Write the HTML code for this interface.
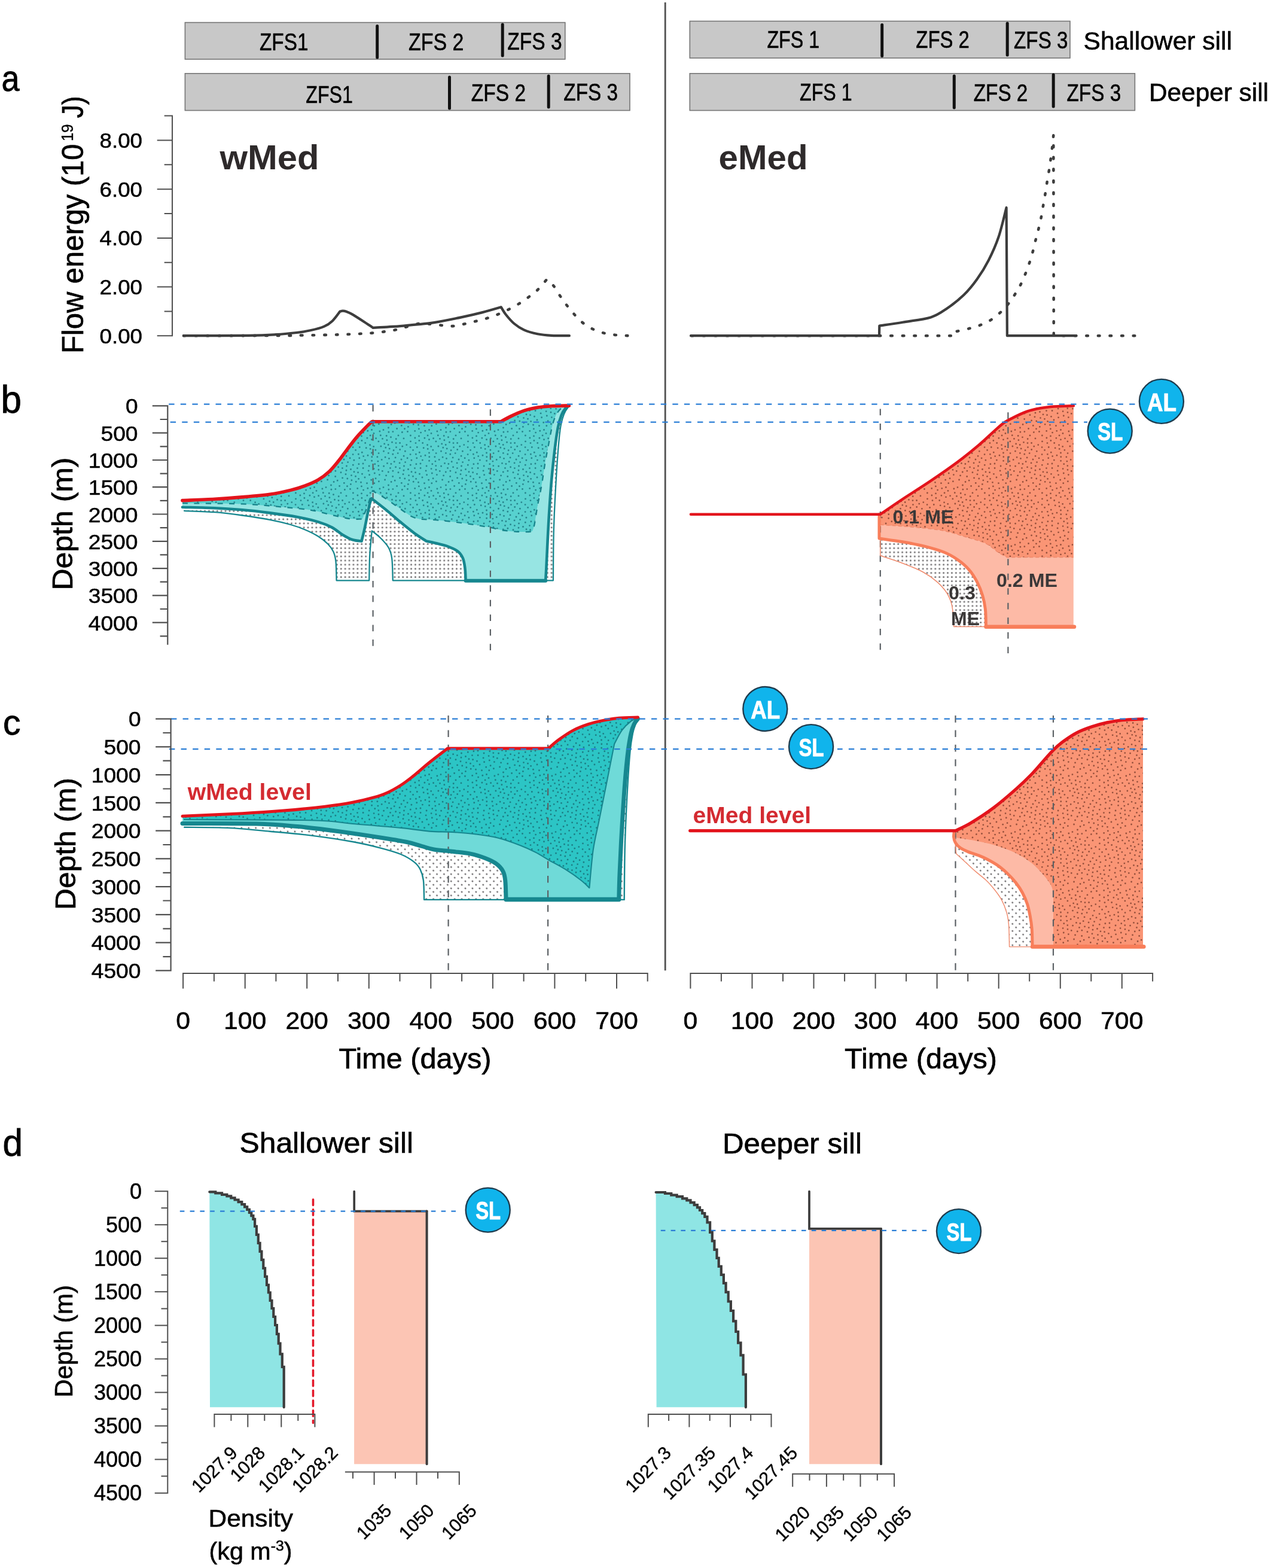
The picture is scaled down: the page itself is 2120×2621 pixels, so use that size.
<!DOCTYPE html>
<html lang="en"><head><meta charset="utf-8"><title>Figure</title>
<style>html,body{margin:0;padding:0;background:#fff}svg{display:block}text{font-family:"Liberation Sans",Arial,sans-serif}</style>
</head><body>
<svg width="2120" height="2621" viewBox="0 0 2120 2621">
<rect width="2120" height="2621" fill="#fff"/>
<defs>
<pattern id="stB" width="96" height="96" patternUnits="userSpaceOnUse"><rect width="96" height="96" fill="#57d1cf"/><path d="M31.1 14.5h0M40.1 18.9h0M41.6 25.8h0M29.5 24.3h0M41.1 11h0M50.8 7.7h0M22.6 21.7h0M34 30h0M31 7h0M49.1 15.6h0M50.3 23h0M57 17.3h0M27.5 38.3h0M44.7 34.2h0M23.9 7.7h0M21.7 48.4h0M37.5 39.7h0M23.6 32.4h0M21.5 14.6h0M11.5 26.6h0M34.4 1.1h0M34.4 97.1h0M49.8 39.7h0M10.5 16.5h0M2 24.8h0M98 24.8h0M55.9 3.1h0M31.7 90.6h0M31.6 51.1h0M57.4 36.7h0M4.8 32h0M92.4 14.6h0M37.9 60.3h0M92.6 30.9h0M18.5 28.3h0M19.2 37.3h0M39 89.2h0M5.6 4.6h0M54.9 91.8h0M29.3 84.2h0M14.3 9.3h0M21.9 60h0M24.8 93.7h0M24.8 -2.3h0M58.4 25.6h0M45.6 2.3h0M45.6 98.3h0M28.4 44.9h0M63.3 19.4h0M25.3 75.5h0M58.9 49h0M15.9 1.2h0M15.9 97.2h0M90 21.7h0M38.8 48.3h0M45.8 91.7h0M9.1 93.8h0M9.1 -2.2h0M5.4 82.3h0M36.2 76.8h0M23 68.6h0M56.8 10.6h0M80.9 19.2h0M43.1 55.9h0M3.5 11h0M67.6 34h0M16 20.8h0M14.1 75.6h0M45.5 85h0M52.1 31.7h0M14.4 56h0M23.4 87.3h0M3 60.9h0M45.5 46.5h0M57.1 85.6h0M42.6 71.8h0M3.1 90.3h0M28.5 56.9h0M86.2 61.7h0M80.7 28.5h0M11.9 34.8h0M52.6 60.8h0M34.7 68.5h0M77.9 7.5h0M62.2 0.4h0M62.2 96.4h0M14.1 87.6h0M4.5 44.8h0M0.4 50.5h0M96.4 50.5h0M95.3 39.4h0M-0.7 39.4h0M73.3 21h0M28.9 64.5h0M95 0h0M-1 0h0M-1 96h0M95 96h0M0.8 74.1h0M96.8 74.1h0M65.5 82.2h0M14.5 65.9h0M65.6 11.2h0M60.3 55.7h0M85.6 12.8h0M10.4 41.4h0M49 52.4h0M78.1 37.5h0M51.9 80.3h0M92.1 5.9h0M7.8 71.6h0M43.2 78.4h0M92.6 68.5h0M18.6 80.4h0M83.2 3.7h0M80.9 49.6h0M68.1 92.3h0M9.5 49.5h0M92.7 79.5h0M45.5 62.8h0M48.7 74.4h0M71.5 6.4h0M89.2 85.6h0M74.5 94.4h0M74.5 -1.6h0M3 18.2h0M85.1 92.9h0M73.4 85.4h0M56.9 65.9h0M82.1 80.7h0M87.6 44.5h0M90 55.9h0M65 46.6h0M66.7 69.9h0M73.9 50.2h0M76.5 14.4h0M60.9 74h0M73.5 43h0M80.8 87.2h0M70.2 56.5h0M84.2 35.2h0M77.5 58.8h0M63.5 61.4h0M69.6 26.9h0M75.2 77.9h0M79.5 67.3h0M86 68.6h0M70.9 63.7h0M86.5 75.6h0M73.2 71.5h0M68.8 76.3h0" stroke="#27858d" stroke-width="2.9" stroke-linecap="round" fill="none"/></pattern>
<pattern id="stC" width="96" height="96" patternUnits="userSpaceOnUse"><rect width="96" height="96" fill="#2cc5c5"/><path d="M31.1 14.5h0M40.1 18.9h0M41.6 25.8h0M29.5 24.3h0M41.1 11h0M50.8 7.7h0M22.6 21.7h0M34 30h0M31 7h0M49.1 15.6h0M50.3 23h0M57 17.3h0M27.5 38.3h0M44.7 34.2h0M23.9 7.7h0M21.7 48.4h0M37.5 39.7h0M23.6 32.4h0M21.5 14.6h0M11.5 26.6h0M34.4 1.1h0M34.4 97.1h0M49.8 39.7h0M10.5 16.5h0M2 24.8h0M98 24.8h0M55.9 3.1h0M31.7 90.6h0M31.6 51.1h0M57.4 36.7h0M4.8 32h0M92.4 14.6h0M37.9 60.3h0M92.6 30.9h0M18.5 28.3h0M19.2 37.3h0M39 89.2h0M5.6 4.6h0M54.9 91.8h0M29.3 84.2h0M14.3 9.3h0M21.9 60h0M24.8 93.7h0M24.8 -2.3h0M58.4 25.6h0M45.6 2.3h0M45.6 98.3h0M28.4 44.9h0M63.3 19.4h0M25.3 75.5h0M58.9 49h0M15.9 1.2h0M15.9 97.2h0M90 21.7h0M38.8 48.3h0M45.8 91.7h0M9.1 93.8h0M9.1 -2.2h0M5.4 82.3h0M36.2 76.8h0M23 68.6h0M56.8 10.6h0M80.9 19.2h0M43.1 55.9h0M3.5 11h0M67.6 34h0M16 20.8h0M14.1 75.6h0M45.5 85h0M52.1 31.7h0M14.4 56h0M23.4 87.3h0M3 60.9h0M45.5 46.5h0M57.1 85.6h0M42.6 71.8h0M3.1 90.3h0M28.5 56.9h0M86.2 61.7h0M80.7 28.5h0M11.9 34.8h0M52.6 60.8h0M34.7 68.5h0M77.9 7.5h0M62.2 0.4h0M62.2 96.4h0M14.1 87.6h0M4.5 44.8h0M0.4 50.5h0M96.4 50.5h0M95.3 39.4h0M-0.7 39.4h0M73.3 21h0M28.9 64.5h0M95 0h0M-1 0h0M-1 96h0M95 96h0M0.8 74.1h0M96.8 74.1h0M65.5 82.2h0M14.5 65.9h0M65.6 11.2h0M60.3 55.7h0M85.6 12.8h0M10.4 41.4h0M49 52.4h0M78.1 37.5h0M51.9 80.3h0M92.1 5.9h0M7.8 71.6h0M43.2 78.4h0M92.6 68.5h0M18.6 80.4h0M83.2 3.7h0M80.9 49.6h0M68.1 92.3h0M9.5 49.5h0M92.7 79.5h0M45.5 62.8h0M48.7 74.4h0M71.5 6.4h0M89.2 85.6h0M74.5 94.4h0M74.5 -1.6h0M3 18.2h0M85.1 92.9h0M73.4 85.4h0M56.9 65.9h0M82.1 80.7h0M87.6 44.5h0M90 55.9h0M65 46.6h0M66.7 69.9h0M73.9 50.2h0M76.5 14.4h0M60.9 74h0M73.5 43h0M80.8 87.2h0M70.2 56.5h0M84.2 35.2h0M77.5 58.8h0M63.5 61.4h0M69.6 26.9h0M75.2 77.9h0M79.5 67.3h0M86 68.6h0M70.9 63.7h0M86.5 75.6h0M73.2 71.5h0M68.8 76.3h0" stroke="#1d7f86" stroke-width="2.9" stroke-linecap="round" fill="none"/></pattern>
<pattern id="stO" width="96" height="96" patternUnits="userSpaceOnUse"><rect width="96" height="96" fill="#fa9575"/><path d="M31.1 14.5h0M40.1 18.9h0M41.6 25.8h0M29.5 24.3h0M41.1 11h0M50.8 7.7h0M22.6 21.7h0M34 30h0M31 7h0M49.1 15.6h0M50.3 23h0M57 17.3h0M27.5 38.3h0M44.7 34.2h0M23.9 7.7h0M21.7 48.4h0M37.5 39.7h0M23.6 32.4h0M21.5 14.6h0M11.5 26.6h0M34.4 1.1h0M34.4 97.1h0M49.8 39.7h0M10.5 16.5h0M2 24.8h0M98 24.8h0M55.9 3.1h0M31.7 90.6h0M31.6 51.1h0M57.4 36.7h0M4.8 32h0M92.4 14.6h0M37.9 60.3h0M92.6 30.9h0M18.5 28.3h0M19.2 37.3h0M39 89.2h0M5.6 4.6h0M54.9 91.8h0M29.3 84.2h0M14.3 9.3h0M21.9 60h0M24.8 93.7h0M24.8 -2.3h0M58.4 25.6h0M45.6 2.3h0M45.6 98.3h0M28.4 44.9h0M63.3 19.4h0M25.3 75.5h0M58.9 49h0M15.9 1.2h0M15.9 97.2h0M90 21.7h0M38.8 48.3h0M45.8 91.7h0M9.1 93.8h0M9.1 -2.2h0M5.4 82.3h0M36.2 76.8h0M23 68.6h0M56.8 10.6h0M80.9 19.2h0M43.1 55.9h0M3.5 11h0M67.6 34h0M16 20.8h0M14.1 75.6h0M45.5 85h0M52.1 31.7h0M14.4 56h0M23.4 87.3h0M3 60.9h0M45.5 46.5h0M57.1 85.6h0M42.6 71.8h0M3.1 90.3h0M28.5 56.9h0M86.2 61.7h0M80.7 28.5h0M11.9 34.8h0M52.6 60.8h0M34.7 68.5h0M77.9 7.5h0M62.2 0.4h0M62.2 96.4h0M14.1 87.6h0M4.5 44.8h0M0.4 50.5h0M96.4 50.5h0M95.3 39.4h0M-0.7 39.4h0M73.3 21h0M28.9 64.5h0M95 0h0M-1 0h0M-1 96h0M95 96h0M0.8 74.1h0M96.8 74.1h0M65.5 82.2h0M14.5 65.9h0M65.6 11.2h0M60.3 55.7h0M85.6 12.8h0M10.4 41.4h0M49 52.4h0M78.1 37.5h0M51.9 80.3h0M92.1 5.9h0M7.8 71.6h0M43.2 78.4h0M92.6 68.5h0M18.6 80.4h0M83.2 3.7h0M80.9 49.6h0M68.1 92.3h0M9.5 49.5h0M92.7 79.5h0M45.5 62.8h0M48.7 74.4h0M71.5 6.4h0M89.2 85.6h0M74.5 94.4h0M74.5 -1.6h0M3 18.2h0M85.1 92.9h0M73.4 85.4h0M56.9 65.9h0M82.1 80.7h0M87.6 44.5h0M90 55.9h0M65 46.6h0M66.7 69.9h0M73.9 50.2h0M76.5 14.4h0M60.9 74h0M73.5 43h0M80.8 87.2h0M70.2 56.5h0M84.2 35.2h0M77.5 58.8h0M63.5 61.4h0M69.6 26.9h0M75.2 77.9h0M79.5 67.3h0M86 68.6h0M70.9 63.7h0M86.5 75.6h0M73.2 71.5h0M68.8 76.3h0" stroke="#96503c" stroke-width="2.8" stroke-linecap="round" fill="none"/></pattern>
<pattern id="gd" width="6.9" height="6.9" patternUnits="userSpaceOnUse" x="1" y="2"><rect width="6.9" height="6.9" fill="#fff"/><circle cx="3.45" cy="3.45" r="1.5" fill="#757375"/></pattern>
<pattern id="gd2" width="8.4" height="8.4" patternUnits="userSpaceOnUse" patternTransform="rotate(45)"><rect width="8.4" height="8.4" fill="#fff"/><circle cx="4.2" cy="4.2" r="1.5" fill="#757375"/></pattern>
</defs>
<line x1="1112.2" y1="4" x2="1112.2" y2="1622.3" stroke="#505050" stroke-width="2.8"/>
<rect x="309.4" y="37.6" width="635.4" height="61.4" fill="#c8c8c8" stroke="#757575" stroke-width="1.6"/>
<line x1="630.7" y1="43.5" x2="630.7" y2="96" stroke="#111" stroke-width="5" stroke-linecap="round"/>
<line x1="840.2" y1="41" x2="840.2" y2="93" stroke="#111" stroke-width="5" stroke-linecap="round"/>
<text x="434" y="83.5" font-size="41" textLength="81.4" lengthAdjust="spacingAndGlyphs" stroke="#000" stroke-width="0.57">ZFS1</text>
<text x="683.1" y="83.5" font-size="41" textLength="92.4" lengthAdjust="spacingAndGlyphs" stroke="#000" stroke-width="0.57">ZFS 2</text>
<text x="848.3" y="83" font-size="41" textLength="91.4" lengthAdjust="spacingAndGlyphs" stroke="#000" stroke-width="0.57">ZFS 3</text>
<rect x="309.4" y="122.8" width="743.6" height="61.8" fill="#c8c8c8" stroke="#757575" stroke-width="1.6"/>
<line x1="751.5" y1="129" x2="751.5" y2="181" stroke="#111" stroke-width="5" stroke-linecap="round"/>
<line x1="917.2" y1="127" x2="917.2" y2="179" stroke="#111" stroke-width="5" stroke-linecap="round"/>
<text x="511.3" y="171.5" font-size="41" textLength="78.6" lengthAdjust="spacingAndGlyphs" stroke="#000" stroke-width="0.57">ZFS1</text>
<text x="787.8" y="169.4" font-size="41" textLength="91.4" lengthAdjust="spacingAndGlyphs" stroke="#000" stroke-width="0.57">ZFS 2</text>
<text x="942.3" y="168.3" font-size="41" textLength="90.7" lengthAdjust="spacingAndGlyphs" stroke="#000" stroke-width="0.57">ZFS 3</text>
<rect x="1153.3" y="35.4" width="635.7" height="61.6" fill="#c8c8c8" stroke="#757575" stroke-width="1.6"/>
<line x1="1474.7" y1="41.5" x2="1474.7" y2="93.5" stroke="#111" stroke-width="5" stroke-linecap="round"/>
<line x1="1684.2" y1="39" x2="1684.2" y2="92" stroke="#111" stroke-width="5" stroke-linecap="round"/>
<text x="1282.4" y="80.2" font-size="41" textLength="87.9" lengthAdjust="spacingAndGlyphs" stroke="#000" stroke-width="0.57">ZFS 1</text>
<text x="1531.3" y="80.2" font-size="41" textLength="89.6" lengthAdjust="spacingAndGlyphs" stroke="#000" stroke-width="0.57">ZFS 2</text>
<text x="1695.1" y="80.9" font-size="41" textLength="90.4" lengthAdjust="spacingAndGlyphs" stroke="#000" stroke-width="0.57">ZFS 3</text>
<rect x="1153.3" y="122.8" width="744.1" height="61.8" fill="#c8c8c8" stroke="#757575" stroke-width="1.6"/>
<line x1="1595.3" y1="127" x2="1595.3" y2="180" stroke="#111" stroke-width="5" stroke-linecap="round"/>
<line x1="1761.2" y1="125" x2="1761.2" y2="178" stroke="#111" stroke-width="5" stroke-linecap="round"/>
<text x="1337" y="168.3" font-size="41" textLength="87.6" lengthAdjust="spacingAndGlyphs" stroke="#000" stroke-width="0.57">ZFS 1</text>
<text x="1627.7" y="169.3" font-size="41" textLength="90.7" lengthAdjust="spacingAndGlyphs" stroke="#000" stroke-width="0.57">ZFS 2</text>
<text x="1783.4" y="169.3" font-size="41" textLength="90.8" lengthAdjust="spacingAndGlyphs" stroke="#000" stroke-width="0.57">ZFS 3</text>
<text x="1811.5" y="83.2" font-size="42" textLength="248.5" lengthAdjust="spacingAndGlyphs" stroke="#000" stroke-width="0.59">Shallower sill</text>
<text x="1921" y="169.3" font-size="42" textLength="200" lengthAdjust="spacingAndGlyphs" stroke="#000" stroke-width="0.59">Deeper sill</text>
<text x="2.5" y="152" font-size="62" textLength="30" lengthAdjust="spacingAndGlyphs" stroke="#000" stroke-width="0.87">a</text>
<path d="M288 193.6 V561.3M262.7 561.3 H289M262.7 479.6 H289M262.7 397.9 H289M262.7 316.2 H289M262.7 234.5 H289M274.7 520.4 H289M274.7 438.7 H289M274.7 357 H289M274.7 275.3 H289M274.7 193.6 H289" fill="none" stroke="#4f4f4f" stroke-width="2"/>
<text x="238" y="573.6" font-size="34.5" text-anchor="end" textLength="71.5" lengthAdjust="spacingAndGlyphs" stroke="#000" stroke-width="0.48">0.00</text>
<text x="238" y="491.9" font-size="34.5" text-anchor="end" textLength="71.5" lengthAdjust="spacingAndGlyphs" stroke="#000" stroke-width="0.48">2.00</text>
<text x="238" y="410.2" font-size="34.5" text-anchor="end" textLength="71.5" lengthAdjust="spacingAndGlyphs" stroke="#000" stroke-width="0.48">4.00</text>
<text x="238" y="328.5" font-size="34.5" text-anchor="end" textLength="71.5" lengthAdjust="spacingAndGlyphs" stroke="#000" stroke-width="0.48">6.00</text>
<text x="238" y="246.8" font-size="34.5" text-anchor="end" textLength="71.5" lengthAdjust="spacingAndGlyphs" stroke="#000" stroke-width="0.48">8.00</text>
<text x="138.6" y="591" font-size="50" textLength="350.5" lengthAdjust="spacingAndGlyphs" transform="rotate(-90 138.6 591)" stroke="#000" stroke-width="0.7">Flow energy (10</text>
<text x="121.8" y="236" font-size="28" textLength="28.5" lengthAdjust="spacingAndGlyphs" transform="rotate(-90 121.8 236)" stroke="#000" stroke-width="0.39">19</text>
<text x="138.6" y="197.5" font-size="50" textLength="37" lengthAdjust="spacingAndGlyphs" transform="rotate(-90 138.6 197.5)" stroke="#000" stroke-width="0.7">J)</text>
<text x="367.5" y="283.3" font-size="57" font-weight="bold" fill="#2e2a2b" textLength="166" lengthAdjust="spacingAndGlyphs">wMed</text>
<text x="1201.5" y="283.2" font-size="57" font-weight="bold" fill="#2e2a2b" textLength="149" lengthAdjust="spacingAndGlyphs">eMed</text>
<path d="M307 561.2C332.5 561.2 426.8 561.1 460 561C493.2 560.9 488.5 560.8 506 560.5C523.5 560.2 548.7 559.9 565 559.4C581.3 558.9 594.4 558.3 604 557.8C613.6 557.3 616.1 557.2 622.6 556.6C629.1 556 636.8 555.2 643.3 554.3C649.8 553.4 655.7 552.6 661.8 551.3C667.9 550 673.7 548 680 546.3C686.3 544.6 693.8 541.9 699.6 541C705.4 540.1 708.7 540.8 715 541.2C721.3 541.7 730.6 543.1 737.6 543.7C744.6 544.4 750.7 545.5 757.2 545.1C763.7 544.7 770.5 542.8 776.8 541.4C783.1 540 788.9 538.6 795.2 537C801.5 535.4 808.5 533.8 814.8 531.8C821.1 529.8 827.2 527.5 833.2 525.1C839.2 522.7 844.7 520.1 850.5 517.2C856.3 514.3 862.2 511.1 867.8 507.6C873.4 504.2 878.7 500.4 883.9 496.5C889.1 492.6 893.8 489.4 898.9 484.5C904 479.6 911.7 469.9 914.2 467C916.1 468.8 921.8 473.2 925.4 477.6C929 482.1 932.1 488.3 935.8 493.7C939.4 499.1 943.3 504.6 947.3 509.9C951.3 515.2 955.6 520.4 960 525.3C964.4 530.2 968.8 535.1 973.8 539.1C978.8 543.1 984.1 546.6 989.9 549.5C995.6 552.4 1002.1 554.7 1008.3 556.4C1014.4 558.1 1020.4 558.8 1026.8 559.6C1033.2 560.4 1039.9 560.7 1046.4 561C1052.9 561.3 1062.7 561.2 1066 561.2" fill="none" stroke="#3d3d3d" stroke-width="4.6" stroke-dasharray="2.6 17" stroke-linecap="round" stroke-linejoin="round"/>
<path d="M306.9 561.2C324.9 561.1 389.5 561.1 415.2 560.8C440.9 560.5 447.9 560 461.3 559.2C474.8 558.4 486.3 557.1 495.9 556C505.5 554.9 511.2 554 518.9 552.3C526.6 550.6 535.9 548.2 542 545.6C548.1 543 551.4 540.6 555.8 536.4C560.2 532.2 566.3 523.2 568.4 520.6C569.2 520.4 571.2 519.6 573 519.6C574.8 519.6 576.5 519.9 579 520.8C581.5 521.7 583.4 522.2 588 524.8C592.6 527.4 600.5 532.5 606.5 536.4C612.5 540.2 620.8 546 623.7 547.9C631.2 547.4 656 546.1 668.7 545.1C681.4 544.1 690.5 543.1 700 542.1C709.5 541.1 714 541.1 726 539.1C738 537.1 758.8 532.9 772.2 530.1C785.7 527.3 795.8 524.9 806.7 522.1C817.6 519.3 832.6 514.8 837.8 513.3C839.1 515.4 842.2 521.4 845.9 526C849.5 530.6 854.7 536.8 859.7 541C864.7 545.2 869.4 548.4 875.9 551.3C882.4 554.2 891.2 556.6 898.9 558.2C906.6 559.8 913.1 560.3 921.9 560.8C930.7 561.3 946.9 561.1 951.9 561.2" fill="none" stroke="#3d3d3d" stroke-width="4.2" stroke-linecap="round" stroke-linejoin="round"/>
<path d="M1156 561.2L1597.6 561.2L1597.6 554.4C1598.3 554.2 1597.8 554.3 1601.7 553.4C1605.6 552.5 1614.9 550.6 1621.1 548.9C1627.3 547.2 1633.1 545.8 1639.1 543.4C1645.1 541 1651.2 538.3 1657 534.6C1662.8 530.9 1668.8 525.8 1673.6 521.3C1678.4 516.8 1682.2 512.4 1686.1 507.5C1690 502.6 1693.6 497.1 1697.1 491.7C1700.5 486.3 1703.9 480.9 1706.8 475.1C1709.7 469.3 1712.1 463.2 1714.6 457.1C1717 451 1719.4 444.5 1721.5 438.3C1723.6 432.1 1725.3 426.1 1727 419.8C1728.7 413.5 1730.1 406.7 1731.7 400.5C1733.3 394.3 1734.9 388.7 1736.4 382.5C1737.9 376.3 1739.5 369.6 1740.8 363.1C1742.1 356.7 1743 350.2 1744.1 343.8C1745.2 337.4 1746.4 330.8 1747.5 324.4C1748.6 317.9 1749.5 311.6 1750.5 305.1C1751.5 298.7 1752.8 292.1 1753.8 285.7C1754.8 279.2 1755.7 273.1 1756.6 266.4C1757.5 259.7 1758.5 252.3 1759.3 245.6C1760.1 238.9 1761 229.5 1761.3 226.3L1761.8 561.2L1899 561.2" fill="none" stroke="#3d3d3d" stroke-width="4.6" stroke-dasharray="2.6 17" stroke-linecap="round" stroke-linejoin="round"/>
<path d="M1155 561.2L1470 561.2L1470.3 544.6C1476.8 543.6 1494.8 541.1 1509.1 538.7C1523.4 536.3 1543.6 534.3 1556.1 530.4C1568.5 526.5 1574.6 521.4 1583.8 515.2C1593 509 1603.1 501.2 1611.4 493.1C1619.7 485 1626.6 476.5 1633.5 466.8C1640.4 457.1 1646.9 446.8 1652.9 435C1658.9 423.2 1664.5 411 1669.5 396.3C1674.5 381.6 1680.4 355.2 1682.6 347L1683.9 561.2L1799.4 561.2" fill="none" stroke="#3d3d3d" stroke-width="4.2" stroke-linecap="round" stroke-linejoin="round"/>
<text x="1.5" y="690.3" font-size="65" textLength="34.5" lengthAdjust="spacingAndGlyphs" stroke="#000" stroke-width="0.91">b</text>
<path d="M305 847.7C314 848 342.4 848.5 359.1 849.3C375.8 850.1 389.8 850.9 405.2 852.3C420.6 853.6 435.9 855.4 451.3 857.4C466.7 859.4 484 861.8 497.4 864.3C510.8 866.8 522.3 869.5 531.9 872.4C541.5 875.3 548.1 878 555 881.6C561.9 885.2 567.6 890.8 573.4 894.2C579.1 897.7 584.3 900.6 589.5 902.3C594.7 904 602 904.2 604.5 904.6C605.5 900.6 608.2 890.2 610.3 880.4C612.4 870.6 615.4 853.8 617.2 845.9C619 838 620.5 835.3 621.1 833.2C625.3 836.5 638.1 846.3 646.1 852.8C654.1 859.3 661.4 866.1 669.1 872.4C676.8 878.7 684.9 885.4 692.2 890.8C699.5 896.2 709.5 902.3 712.9 904.6C715.6 905.2 722.9 906.6 729 908.1C735.1 909.6 743.6 911.5 749.8 913.8C755.9 916.1 761.9 918.6 765.9 921.9C769.9 925.2 772.1 928.8 774 933.4C775.9 938 776.6 943.4 777.4 949.5C778.2 955.6 778.4 966.8 778.6 970.3L912.2 970.3C912.4 966.8 912.6 964.5 913.4 949.5C914.2 934.5 915.5 903.4 916.8 880.4C918.1 857.4 919.7 832.4 921.4 811.3C923.1 790.2 925.3 769.8 927.2 753.7C929.1 737.6 931 724.5 932.9 714.5C934.8 704.5 936.6 699.2 938.7 693.8C940.8 688.4 943.5 684.9 945.6 682.3C947.7 679.7 950.4 678.8 951.4 678.1L951.4 678.8C950 680.9 945.8 684.8 943.3 691.5C940.8 698.2 938.5 703 936.4 719.1C934.3 735.2 932.3 761.3 930.6 788.2C928.9 815.1 927 850 926 880.4C925 910.8 925.1 955.3 924.9 970.3L656.8 970.3C656.5 964.1 656.4 942.6 655.2 933.4C654 924.2 652.7 920.8 649.4 915C646.1 909.2 640.2 903.4 635.6 898.8C631 894.2 624.1 889.2 621.8 887.3C621.2 893.8 619.1 912.7 618.3 926.5C617.5 940.3 617.4 963 617.2 970.3L562.6 970.3C562.4 964.9 562.3 946.1 561.4 938C560.5 929.9 559.5 926.7 557.3 921.9C555.1 917.1 552.3 913.4 548.1 909.2C543.9 905 538.4 900.5 531.9 896.5C525.4 892.5 516.6 888.2 508.9 885C501.2 881.8 495.5 879.7 485.9 877C476.3 874.3 464.8 871.5 451.3 868.9C437.9 866.3 420.6 863.6 405.2 861.5C389.8 859.4 375.4 857.5 359.1 856.2C342.8 854.9 315.9 854.3 307.3 853.9Z" fill="url(#gd)"/>
<path d="M305 836.6C314 836.2 342.4 835.2 359.1 834.3C375.8 833.3 389.8 832.2 405.2 830.9C420.6 829.6 437.9 828.2 451.3 826.3C464.8 824.4 476.3 821.7 485.9 819.4C495.5 817.1 501.2 815.3 508.9 812.4C516.6 809.5 525 806.1 531.9 802.1C538.8 798.1 544.6 793.6 550.4 788.2C556.2 782.8 561.5 775.9 566.5 769.8C571.5 763.7 575.3 757.9 580.3 751.4C585.3 744.9 591.1 736.9 596.5 730.6C601.9 724.3 608.4 717.7 612.6 713.4C616.8 709.1 620.3 706.2 621.8 704.8L837.3 704.8C840 703.3 847 699.2 853.5 696.1C860 693 868.8 688.9 876.5 686.4C884.2 683.9 891.8 682.4 899.5 681.1C907.2 679.8 914 679.3 922.6 678.8C931.2 678.3 946.6 678.2 951.4 678.1L951.4 678.1C950.4 678.8 947.7 679.7 945.6 682.3C943.5 684.9 940.8 688.4 938.7 693.8C936.6 699.2 934.8 704.5 932.9 714.5C931 724.5 929.1 737.6 927.2 753.7C925.3 769.8 923.1 790.2 921.4 811.3C919.7 832.4 918.1 857.4 916.8 880.4C915.5 903.4 914.2 934.5 913.4 949.5C912.6 964.5 912.4 966.8 912.2 970.3L778.6 970.3C778.4 966.8 778.2 955.6 777.4 949.5C776.6 943.4 775.9 938 774 933.4C772.1 928.8 769.9 925.2 765.9 921.9C761.9 918.6 755.9 916.1 749.8 913.8C743.6 911.5 735.1 909.6 729 908.1C722.9 906.6 715.6 905.2 712.9 904.6C709.5 902.3 699.5 896.2 692.2 890.8C684.9 885.4 676.8 878.7 669.1 872.4C661.4 866.1 654.1 859.3 646.1 852.8C638.1 846.3 625.3 836.5 621.1 833.2C620.5 835.3 619 838 617.2 845.9C615.4 853.8 612.4 870.6 610.3 880.4C608.2 890.2 605.5 900.6 604.5 904.6C602 904.2 594.7 904 589.5 902.3C584.3 900.6 579.1 897.7 573.4 894.2C567.6 890.8 561.9 885.2 555 881.6C548.1 878 541.5 875.3 531.9 872.4C522.3 869.5 510.8 866.8 497.4 864.3C484 861.8 466.7 859.4 451.3 857.4C435.9 855.4 420.6 853.6 405.2 852.3C389.8 850.9 375.8 850.1 359.1 849.3C342.4 848.5 314 848 305 847.7Z" fill="#97e5e3"/>
<path d="M305 836.6C314 836.2 342.4 835.2 359.1 834.3C375.8 833.3 389.8 832.2 405.2 830.9C420.6 829.6 437.9 828.2 451.3 826.3C464.8 824.4 476.3 821.7 485.9 819.4C495.5 817.1 501.2 815.3 508.9 812.4C516.6 809.5 525 806.1 531.9 802.1C538.8 798.1 544.6 793.6 550.4 788.2C556.2 782.8 561.5 775.9 566.5 769.8C571.5 763.7 575.3 757.9 580.3 751.4C585.3 744.9 591.1 736.9 596.5 730.6C601.9 724.3 608.4 717.7 612.6 713.4C616.8 709.1 620.3 706.2 621.8 704.8L837.3 704.8C840 703.3 847 699.2 853.5 696.1C860 693 868.8 688.9 876.5 686.4C884.2 683.9 895.7 682 899.5 681.1L937.9 682.6L937.9 682.6C936.6 684.3 932.4 688.2 930 693C927.6 697.8 925.6 703.1 923.5 711.3C921.4 719.5 919.4 731.4 917.4 742C915.4 752.6 913.2 762.8 911.2 774.8C909.2 786.8 907.2 802.2 905.1 813.8C903 825.4 900.8 834.2 898.9 844.5C897 854.8 895.2 868.2 893.8 875.3C892.4 882.4 891 885.2 890.5 887.2C889.4 887.5 888.8 888.8 884 889C879.2 889.2 869.4 889.1 862 888.6C854.6 888.1 846.5 887.3 839.5 886.2C832.5 885.1 829.2 883.5 820 881.8C810.8 880.1 797.9 877.8 784.3 875.8C770.7 873.8 752 871.4 738.2 870C724.4 868.6 707.5 868.1 701.4 867.7C699.1 866.9 693 866 687.6 863.1C682.2 860.2 676 855.3 669.1 850.5C662.2 845.7 653.8 839.3 646.1 834.3C638.4 829.3 626.9 822.8 623 820.5C621.3 825.5 615.5 842.6 612.6 850.5C609.7 858.4 606.9 864.8 605.7 867.7C602.2 867.6 593.4 868.2 584.9 867.1C576.4 866 565.8 863.2 555 860.8C544.2 858.4 533.9 855 520.4 852.8C506.9 850.6 493.5 849.4 474.3 847.7C455.1 846 433.4 843.5 405.2 842.4C377 841.3 321.7 841.4 305 841.2Z" fill="url(#stB)"/>
<line x1="623.6" y1="677" x2="623.6" y2="1080.2" stroke="#5c6165" stroke-width="2.2" stroke-dasharray="10.8 13.7"/>
<line x1="819.9" y1="684.2" x2="819.9" y2="1087.5" stroke="#5c6165" stroke-width="2.2" stroke-dasharray="10.8 13.7"/>
<path d="M307.3 853.9C315.9 854.3 342.8 854.9 359.1 856.2C375.4 857.5 389.8 859.4 405.2 861.5C420.6 863.6 437.9 866.3 451.3 868.9C464.8 871.5 476.3 874.3 485.9 877C495.5 879.7 501.2 881.8 508.9 885C516.6 888.2 525.4 892.5 531.9 896.5C538.4 900.5 543.9 905 548.1 909.2C552.3 913.4 555.1 917.1 557.3 921.9C559.5 926.7 560.5 929.9 561.4 938C562.3 946.1 562.4 964.9 562.6 970.3L617.2 970.3C617.4 963 617.5 940.3 618.3 926.5C619.1 912.7 621.2 893.8 621.8 887.3C624.1 889.2 631 894.2 635.6 898.8C640.2 903.4 646.1 909.2 649.4 915C652.7 920.8 654 924.2 655.2 933.4C656.4 942.6 656.5 964.1 656.8 970.3L924.9 970.3C925.1 955.3 925 910.8 926 880.4C927 850 928.9 815.1 930.6 788.2C932.3 761.3 934.3 735.2 936.4 719.1C938.5 703 940.8 698.2 943.3 691.5C945.8 684.8 950 680.9 951.4 678.8" fill="none" stroke="#16878f" stroke-width="2.3" stroke-linejoin="round"/>
<path d="M305 841.2C321.7 841.4 377 841.3 405.2 842.4C433.4 843.5 455.1 846 474.3 847.7C493.5 849.4 506.9 850.6 520.4 852.8C533.9 855 544.2 858.4 555 860.8C565.8 863.2 576.4 866 584.9 867.1C593.4 868.2 602.2 867.6 605.7 867.7C606.9 864.8 609.7 858.4 612.6 850.5C615.5 842.6 621.3 825.5 623 820.5C626.9 822.8 638.4 829.3 646.1 834.3C653.8 839.3 662.2 845.7 669.1 850.5C676 855.3 682.2 860.2 687.6 863.1C693 866 699.1 866.9 701.4 867.7C707.5 868.1 724.4 868.6 738.2 870C752 871.4 770.7 873.8 784.3 875.8C797.9 877.8 810.8 880.1 820 881.8C829.2 883.5 832.5 885.1 839.5 886.2C846.5 887.3 854.6 888.1 862 888.6C869.4 889.1 879.2 889.2 884 889C888.8 888.8 889.4 887.5 890.5 887.2C891 885.2 892.4 882.4 893.8 875.3C895.2 868.2 897 854.8 898.9 844.5C900.8 834.2 903 825.4 905.1 813.8C907.2 802.2 909.2 786.8 911.2 774.8C913.2 762.8 915.4 752.6 917.4 742C919.4 731.4 921.4 719.5 923.5 711.3C925.6 703.1 927.6 697.8 930 693C932.4 688.2 936.6 684.3 937.9 682.6" fill="none" stroke="#17858c" stroke-width="2.3" stroke-dasharray="9 10.5"/>
<path d="M305 847.7C314 848 342.4 848.5 359.1 849.3C375.8 850.1 389.8 850.9 405.2 852.3C420.6 853.6 435.9 855.4 451.3 857.4C466.7 859.4 484 861.8 497.4 864.3C510.8 866.8 522.3 869.5 531.9 872.4C541.5 875.3 548.1 878 555 881.6C561.9 885.2 567.6 890.8 573.4 894.2C579.1 897.7 584.3 900.6 589.5 902.3C594.7 904 602 904.2 604.5 904.6C605.5 900.6 608.2 890.2 610.3 880.4C612.4 870.6 615.4 853.8 617.2 845.9C619 838 620.5 835.3 621.1 833.2C625.3 836.5 638.1 846.3 646.1 852.8C654.1 859.3 661.4 866.1 669.1 872.4C676.8 878.7 684.9 885.4 692.2 890.8C699.5 896.2 709.5 902.3 712.9 904.6C715.6 905.2 722.9 906.6 729 908.1C735.1 909.6 743.6 911.5 749.8 913.8C755.9 916.1 761.9 918.6 765.9 921.9C769.9 925.2 772.1 928.8 774 933.4C775.9 938 776.6 943.4 777.4 949.5C778.2 955.6 778.4 966.8 778.6 970.3L912.2 970.3C912.4 966.8 912.6 964.5 913.4 949.5C914.2 934.5 915.5 903.4 916.8 880.4C918.1 857.4 919.7 832.4 921.4 811.3C923.1 790.2 925.3 769.8 927.2 753.7C929.1 737.6 931 724.5 932.9 714.5C934.8 704.5 936.6 699.2 938.7 693.8C940.8 688.4 943.5 684.9 945.6 682.3C947.7 679.7 950.4 678.8 951.4 678.1" fill="none" stroke="#16878f" stroke-width="4.6" stroke-linecap="round" stroke-linejoin="round"/>
<line x1="778.6" y1="970.8" x2="912.2" y2="970.8" stroke="#16878f" stroke-width="6" stroke-linecap="round"/>
<path d="M305 836.6C314 836.2 342.4 835.2 359.1 834.3C375.8 833.3 389.8 832.2 405.2 830.9C420.6 829.6 437.9 828.2 451.3 826.3C464.8 824.4 476.3 821.7 485.9 819.4C495.5 817.1 501.2 815.3 508.9 812.4C516.6 809.5 525 806.1 531.9 802.1C538.8 798.1 544.6 793.6 550.4 788.2C556.2 782.8 561.5 775.9 566.5 769.8C571.5 763.7 575.3 757.9 580.3 751.4C585.3 744.9 591.1 736.9 596.5 730.6C601.9 724.3 608.4 717.7 612.6 713.4C616.8 709.1 620.3 706.2 621.8 704.8L837.3 704.8C840 703.3 847 699.2 853.5 696.1C860 693 868.8 688.9 876.5 686.4C884.2 683.9 891.8 682.4 899.5 681.1C907.2 679.8 914 679.3 922.6 678.8C931.2 678.3 946.6 678.2 951.4 678.1" fill="none" stroke="#e3141c" stroke-width="5.6" stroke-linecap="round" stroke-linejoin="round"/>
<path d="M1470 900C1476.5 901 1496.8 903.7 1509.1 905.8C1521.4 907.9 1532.2 909.8 1543.7 912.7C1555.2 915.6 1568.6 919.2 1578.2 923C1587.8 926.8 1594.4 930.9 1601.3 935.7C1608.2 940.5 1614.3 945.6 1619.7 951.8C1625.1 957.9 1629.7 965.3 1633.5 972.6C1637.3 979.9 1640.5 987.9 1642.8 995.6C1645.1 1003.3 1646.5 1010.1 1647.4 1018.7C1648.4 1027.4 1648.3 1042.7 1648.5 1047.5L1648.5 1047.5L1594.8 1047.5C1594.7 1044.6 1594.6 1036.5 1593.9 1030.2C1593.2 1023.9 1592.7 1015.9 1590.9 1009.4C1589.1 1002.9 1586.9 997.1 1582.9 991C1578.9 984.9 1573.2 978.4 1566.7 972.6C1560.2 966.9 1553.3 961.7 1543.7 956.5C1534.1 951.3 1521.1 946.1 1509.1 941.5C1497.1 936.9 1478 930.9 1471.8 928.8L1471.8 900Z" fill="url(#gd)"/>
<path d="M1471.8 859.7C1478 855.5 1495.2 843.5 1509.1 834.3C1523 825.1 1539.8 814.8 1555.2 804.4C1570.6 794 1587.8 782.1 1601.3 772.1C1614.8 762.1 1626.3 752.6 1635.9 744.5C1645.5 736.4 1652 729.9 1658.9 723.7C1665.8 717.6 1671.5 711.8 1677.3 707.6C1683.1 703.4 1687 701.7 1693.5 698.4C1700 695.1 1708.8 690.7 1716.5 688C1724.2 685.3 1731.8 683.7 1739.5 682.3C1747.2 680.9 1753.4 680.2 1762.6 679.5C1771.8 678.8 1789.4 678.5 1794.8 678.3L1794.8 1047.5L1648.5 1047.5C1648.3 1042.7 1648.4 1027.4 1647.4 1018.7C1646.5 1010.1 1645.1 1003.3 1642.8 995.6C1640.5 987.9 1637.3 979.9 1633.5 972.6C1629.7 965.3 1625.1 957.9 1619.7 951.8C1614.3 945.6 1608.2 940.5 1601.3 935.7C1594.4 930.9 1587.8 926.8 1578.2 923C1568.6 919.2 1555.2 915.6 1543.7 912.7C1532.2 909.8 1521.4 907.9 1509.1 905.8C1496.8 903.7 1476.5 901 1470 900L1470 899L1470 859.7Z" fill="#fdbaa6"/>
<path d="M1471.8 859.7C1478 855.5 1495.2 843.5 1509.1 834.3C1523 825.1 1539.8 814.8 1555.2 804.4C1570.6 794 1587.8 782.1 1601.3 772.1C1614.8 762.1 1626.3 752.6 1635.9 744.5C1645.5 736.4 1652 729.9 1658.9 723.7C1665.8 717.6 1671.5 711.8 1677.3 707.6C1683.1 703.4 1687 701.7 1693.5 698.4C1700 695.1 1708.8 690.7 1716.5 688C1724.2 685.3 1731.8 683.7 1739.5 682.3C1747.2 680.9 1753.4 680.2 1762.6 679.5C1771.8 678.8 1789.4 678.5 1794.8 678.3L1794.8 931.6L1684.2 931.6C1681.9 930.4 1676.5 928.1 1670.4 924.2C1664.3 920.3 1656.6 912.5 1647.4 908.1C1638.2 903.7 1626.6 901.2 1615.1 897.7C1603.6 894.2 1592 890 1578.2 887.3C1564.4 884.6 1549.9 883.3 1532.2 881.6C1514.5 879.9 1481.9 877.8 1471.8 877Z" fill="url(#stO)"/>
<path d="M1471.8 877C1481.9 877.8 1514.5 879.9 1532.2 881.6C1549.9 883.3 1564.4 884.6 1578.2 887.3C1592 890 1603.6 894.2 1615.1 897.7C1626.6 901.2 1638.2 903.7 1647.4 908.1C1656.6 912.5 1664.3 920.3 1670.4 924.2C1676.5 928.1 1681.9 930.4 1684.2 931.6L1794.8 931.6" fill="none" stroke="#f08a6c" stroke-width="1.5" stroke-dasharray="6 4"/>
<line x1="1471.8" y1="683.4" x2="1471.8" y2="1086.5" stroke="#5c6165" stroke-width="2.2" stroke-dasharray="10.8 13.7"/>
<line x1="1685.4" y1="689.2" x2="1685.4" y2="1092.5" stroke="#5c6165" stroke-width="2.2" stroke-dasharray="10.8 13.7"/>
<path d="M1471.8 900L1471.8 928.8C1478 930.9 1497.1 936.9 1509.1 941.5C1521.1 946.1 1534.1 951.3 1543.7 956.5C1553.3 961.7 1560.2 966.9 1566.7 972.6C1573.2 978.4 1578.9 984.9 1582.9 991C1586.9 997.1 1589.1 1002.9 1590.9 1009.4C1592.7 1015.9 1593.2 1023.9 1593.9 1030.2C1594.6 1036.5 1594.7 1044.6 1594.8 1047.5L1648.5 1047.5" fill="none" stroke="#f08a6c" stroke-width="1.5" stroke-linejoin="round"/>
<path d="M1470 859.7L1470 899L1470 900C1476.5 901 1496.8 903.7 1509.1 905.8C1521.4 907.9 1532.2 909.8 1543.7 912.7C1555.2 915.6 1568.6 919.2 1578.2 923C1587.8 926.8 1594.4 930.9 1601.3 935.7C1608.2 940.5 1614.3 945.6 1619.7 951.8C1625.1 957.9 1629.7 965.3 1633.5 972.6C1637.3 979.9 1640.5 987.9 1642.8 995.6C1645.1 1003.3 1646.5 1010.1 1647.4 1018.7C1648.4 1027.4 1648.3 1042.7 1648.5 1047.5L1796 1047.5" fill="none" stroke="#f87e5a" stroke-width="5" stroke-linecap="round" stroke-linejoin="round"/>
<line x1="1648.5" y1="1047.8" x2="1796" y2="1047.8" stroke="#f87e5a" stroke-width="6.5" stroke-linecap="round"/>
<path d="M1155 859.7L1471.8 859.7C1478 855.5 1495.2 843.5 1509.1 834.3C1523 825.1 1539.8 814.8 1555.2 804.4C1570.6 794 1587.8 782.1 1601.3 772.1C1614.8 762.1 1626.3 752.6 1635.9 744.5C1645.5 736.4 1652 729.9 1658.9 723.7C1665.8 717.6 1671.5 711.8 1677.3 707.6C1683.1 703.4 1687 701.7 1693.5 698.4C1700 695.1 1708.8 690.7 1716.5 688C1724.2 685.3 1731.8 683.7 1739.5 682.3C1747.2 680.9 1753.4 680.2 1762.6 679.5C1771.8 678.8 1789.4 678.5 1794.8 678.3" fill="none" stroke="#e3141c" stroke-width="4.6" stroke-linecap="round" stroke-linejoin="round"/>
<text x="1492.5" y="874.7" font-size="31.5" font-weight="bold" fill="#3b3838" textLength="102" lengthAdjust="spacingAndGlyphs">0.1 ME</text>
<text x="1666" y="980.6" font-size="31.5" font-weight="bold" fill="#3b3838" textLength="102" lengthAdjust="spacingAndGlyphs">0.2 ME</text>
<text x="1586" y="1002.1" font-size="31.5" font-weight="bold" fill="#3b3838" textLength="45" lengthAdjust="spacingAndGlyphs">0.3</text>
<text x="1590" y="1045.2" font-size="31.5" font-weight="bold" fill="#3b3838" textLength="48" lengthAdjust="spacingAndGlyphs">ME</text>
<line x1="282.2" y1="675.6" x2="1897.9" y2="675.6" stroke="#2a7ed6" stroke-width="2.2" stroke-dasharray="9.4 10.184"/>
<line x1="284.7" y1="705.6" x2="1818" y2="705.6" stroke="#2a7ed6" stroke-width="2.2" stroke-dasharray="9.4 10.184"/>
<circle cx="1941.9" cy="670.9" r="37" fill="#10b4ec" stroke="#1f3b4d" stroke-width="2.4"/>
<text x="1942.4" y="686.8" font-size="42" text-anchor="middle" font-weight="bold" fill="#fff" textLength="49" lengthAdjust="spacingAndGlyphs" stroke="#fff" stroke-width="0.9">AL</text>
<circle cx="1855.7" cy="720.6" r="37" fill="#10b4ec" stroke="#1f3b4d" stroke-width="2.4"/>
<text x="1856.2" y="735.7" font-size="42" text-anchor="middle" font-weight="bold" fill="#fff" textLength="42.5" lengthAdjust="spacingAndGlyphs" stroke="#fff" stroke-width="0.9">SL</text>
<path d="M280.3 677.4 V1077.7M254.8 678.4 H281.4M254.8 723.7 H281.4M254.8 769 H281.4M254.8 814.2 H281.4M254.8 859.5 H281.4M254.8 904.8 H281.4M254.8 950.1 H281.4M254.8 995.4 H281.4M254.8 1040.6 H281.4M267.6 701 H281.4M267.6 746.3 H281.4M267.6 791.6 H281.4M267.6 836.9 H281.4M267.6 882.2 H281.4M267.6 927.4 H281.4M267.6 972.7 H281.4M267.6 1018 H281.4M267.6 1063.3 H281.4" fill="none" stroke="#4f4f4f" stroke-width="2.2"/>
<text x="230.5" y="691.4" font-size="34.5" text-anchor="end" textLength="20.6" lengthAdjust="spacingAndGlyphs" stroke="#000" stroke-width="0.48">0</text>
<text x="230.5" y="736.7" font-size="34.5" text-anchor="end" textLength="62" lengthAdjust="spacingAndGlyphs" stroke="#000" stroke-width="0.48">500</text>
<text x="230.5" y="782" font-size="34.5" text-anchor="end" textLength="82.8" lengthAdjust="spacingAndGlyphs" stroke="#000" stroke-width="0.48">1000</text>
<text x="230.5" y="827.2" font-size="34.5" text-anchor="end" textLength="82.8" lengthAdjust="spacingAndGlyphs" stroke="#000" stroke-width="0.48">1500</text>
<text x="230.5" y="872.5" font-size="34.5" text-anchor="end" textLength="82.8" lengthAdjust="spacingAndGlyphs" stroke="#000" stroke-width="0.48">2000</text>
<text x="230.5" y="917.8" font-size="34.5" text-anchor="end" textLength="82.8" lengthAdjust="spacingAndGlyphs" stroke="#000" stroke-width="0.48">2500</text>
<text x="230.5" y="963.1" font-size="34.5" text-anchor="end" textLength="82.8" lengthAdjust="spacingAndGlyphs" stroke="#000" stroke-width="0.48">3000</text>
<text x="230.5" y="1008.4" font-size="34.5" text-anchor="end" textLength="82.8" lengthAdjust="spacingAndGlyphs" stroke="#000" stroke-width="0.48">3500</text>
<text x="230.5" y="1053.6" font-size="34.5" text-anchor="end" textLength="82.8" lengthAdjust="spacingAndGlyphs" stroke="#000" stroke-width="0.48">4000</text>
<text x="120.6" y="986.5" font-size="48" textLength="222" lengthAdjust="spacingAndGlyphs" transform="rotate(-90 120.6 986.5)" stroke="#000" stroke-width="0.67">Depth (m)</text>
<text x="5" y="1228.4" font-size="59" stroke="#000" stroke-width="0.83">c</text>
<path d="M305 1376.5C325.5 1376.6 396.1 1376.2 428.2 1377C460.3 1377.8 474.3 1379.5 497.4 1381.6C520.4 1383.7 543.5 1386.6 566.5 1389.7C589.5 1392.8 616.7 1397 635.6 1400C654.5 1403 668.4 1405.1 680 1407.5C691.6 1409.9 697.7 1412.4 705.3 1414.5C712.9 1416.6 717.1 1418.5 725.6 1420C734.1 1421.5 745.9 1422.1 756 1423.3C766.1 1424.5 777.2 1425.2 786.5 1427.1C795.8 1429 804.6 1432 811.8 1434.7C819 1437.5 824.6 1440 829.5 1443.6C834.4 1447.2 838.4 1451.6 840.9 1456.3C843.4 1461 843.9 1463.7 844.7 1471.5C845.6 1479.3 845.8 1497.9 846 1503.2L1034.8 1503.2C1035 1495.8 1035.2 1478.9 1036.1 1458.8C1036.9 1438.7 1038.4 1408.1 1039.9 1382.8C1041.4 1357.5 1043.3 1327.8 1045 1306.7C1046.7 1285.6 1048.3 1269.5 1050 1256C1051.7 1242.5 1053.4 1233.2 1055.1 1225.6C1056.8 1218 1058.3 1214.4 1060.2 1210.4C1062.1 1206.4 1065.5 1203 1066.5 1201.5L1066.5 1201.5C1065.8 1203 1063.9 1206.4 1062.5 1210.4C1061.1 1214.4 1059.5 1218 1058 1225.6C1056.5 1233.2 1055 1240.3 1053.5 1256C1052 1271.7 1050.4 1294.7 1049 1320C1047.6 1345.3 1045.9 1377.4 1045 1408.1C1044.1 1438.8 1043.9 1487.9 1043.7 1503.9L709.1 1503.9C708.9 1498.5 709 1479.9 707.9 1471.5C706.8 1463.1 705.3 1458.8 702.8 1453.7C700.3 1448.6 698.1 1445.4 692.7 1441.1C687.3 1436.8 679.7 1432 670.2 1428C660.7 1424 649.1 1420.8 635.6 1417.3C622.1 1413.8 608.7 1410.5 589.5 1407C570.3 1403.5 543.4 1399.5 520.4 1396.6C497.4 1393.7 474.3 1391.8 451.3 1389.7C428.3 1387.6 406.2 1385.1 382.2 1383.9C358.2 1382.8 319.8 1383 307.3 1382.8Z" fill="url(#gd2)"/>
<path d="M305 1364.3C321.7 1363.5 377 1361.2 405.2 1359.7C433.4 1358.2 451.2 1357 474.3 1355.1C497.4 1353.2 524.3 1350.5 543.5 1348.2C562.7 1345.9 576.1 1343.8 589.5 1341.3C602.9 1338.8 614.5 1335.9 624.1 1333.2C633.7 1330.5 639.4 1328.7 647.1 1325.2C654.8 1321.8 663.1 1317 670.2 1312.5C677.4 1308 682 1304.3 690 1298C698 1291.7 708.3 1282.3 718 1274.5C727.7 1266.7 743.3 1254.9 748.4 1251L917 1251C919.8 1248.7 926.5 1242.1 933.5 1237C940.5 1231.9 950.4 1225 958.8 1220.6C967.2 1216.2 975.6 1213.2 984.1 1210.4C992.6 1207.7 1001 1205.8 1009.5 1204.1C1018 1202.4 1025.3 1201.1 1034.8 1200.3C1044.3 1199.5 1061.2 1199.2 1066.5 1199L1066.5 1201.5C1065.5 1203 1062.1 1206.4 1060.2 1210.4C1058.3 1214.4 1056.8 1218 1055.1 1225.6C1053.4 1233.2 1051.7 1242.5 1050 1256C1048.3 1269.5 1046.7 1285.6 1045 1306.7C1043.3 1327.8 1041.4 1357.5 1039.9 1382.8C1038.4 1408.1 1036.9 1438.7 1036.1 1458.8C1035.2 1478.9 1035 1495.8 1034.8 1503.2L846 1503.2C845.8 1497.9 845.6 1479.3 844.7 1471.5C843.9 1463.7 843.4 1461 840.9 1456.3C838.4 1451.6 834.4 1447.2 829.5 1443.6C824.6 1440 819 1437.5 811.8 1434.7C804.6 1432 795.8 1429 786.5 1427.1C777.2 1425.2 766.1 1424.5 756 1423.3C745.9 1422.1 734.1 1421.5 725.6 1420C717.1 1418.5 712.9 1416.6 705.3 1414.5C697.7 1412.4 691.6 1409.9 680 1407.5C668.4 1405.1 654.5 1403 635.6 1400C616.7 1397 589.5 1392.8 566.5 1389.7C543.5 1386.6 520.4 1383.7 497.4 1381.6C474.3 1379.5 460.3 1377.8 428.2 1377C396.1 1376.2 325.5 1376.6 305 1376.5Z" fill="#6fdad8"/>
<path d="M305 1364.3C321.7 1363.5 377 1361.2 405.2 1359.7C433.4 1358.2 451.2 1357 474.3 1355.1C497.4 1353.2 524.3 1350.5 543.5 1348.2C562.7 1345.9 576.1 1343.8 589.5 1341.3C602.9 1338.8 614.5 1335.9 624.1 1333.2C633.7 1330.5 639.4 1328.7 647.1 1325.2C654.8 1321.8 663.1 1317 670.2 1312.5C677.4 1308 682 1304.3 690 1298C698 1291.7 708.3 1282.3 718 1274.5C727.7 1266.7 743.3 1254.9 748.4 1251L917 1251C919.8 1248.7 926.5 1242.1 933.5 1237C940.5 1231.9 950.4 1225 958.8 1220.6C967.2 1216.2 975.6 1213.2 984.1 1210.4C992.6 1207.7 1001 1205.8 1009.5 1204.1C1018 1202.4 1025.3 1201.1 1034.8 1200.3C1044.3 1199.5 1061.2 1199.2 1066.5 1199L1066.5 1200.3C1064.6 1201.1 1059.5 1201.9 1055.1 1205.3C1050.7 1208.7 1044.6 1214.2 1039.9 1220.6C1035.2 1226.9 1029.3 1239.6 1027.2 1243.4C1025.1 1254 1018.8 1285.6 1014.6 1306.7C1010.4 1327.8 1005.7 1351.1 1001.9 1370.1C998.1 1389.1 994.5 1401.8 991.7 1420.8C989 1439.8 986.5 1473.5 985.4 1484.1C983.1 1482 978 1476.6 971.5 1471.5C965 1466.4 955.2 1459.4 946.1 1453.7C937 1448 925.5 1442.2 917 1437.3C908.5 1432.4 903.2 1428.6 895.4 1424.6C887.6 1420.6 880.6 1417.2 870.1 1413.2C859.6 1409.2 844.8 1403.7 832.1 1400.5C819.4 1397.3 806.7 1395.8 794 1394.2C781.3 1392.6 768.7 1391.7 756 1390.9C743.3 1390.1 732.3 1390.8 718 1389.6C703.7 1388.4 691.6 1386 670.2 1383.9C648.8 1381.8 614.5 1379.1 589.5 1377C564.5 1374.9 567.5 1372.4 520.4 1371.2C473.3 1370 342.6 1370.2 307 1370Z" fill="url(#stC)"/>
<line x1="749.6" y1="1196.1" x2="749.6" y2="1622" stroke="#5c6165" stroke-width="2.2" stroke-dasharray="11.6 12.75"/>
<line x1="916.1" y1="1196.1" x2="916.1" y2="1622" stroke="#5c6165" stroke-width="2.2" stroke-dasharray="11.6 12.75"/>
<path d="M307.3 1382.8C319.8 1383 358.2 1382.8 382.2 1383.9C406.2 1385.1 428.3 1387.6 451.3 1389.7C474.3 1391.8 497.4 1393.7 520.4 1396.6C543.4 1399.5 570.3 1403.5 589.5 1407C608.7 1410.5 622.1 1413.8 635.6 1417.3C649.1 1420.8 660.7 1424 670.2 1428C679.7 1432 687.3 1436.8 692.7 1441.1C698.1 1445.4 700.3 1448.6 702.8 1453.7C705.3 1458.8 706.8 1463.1 707.9 1471.5C709 1479.9 708.9 1498.5 709.1 1503.9L1043.7 1503.9C1043.9 1487.9 1044.1 1438.8 1045 1408.1C1045.9 1377.4 1047.6 1345.3 1049 1320C1050.4 1294.7 1052 1271.7 1053.5 1256C1055 1240.3 1056.5 1233.2 1058 1225.6C1059.5 1218 1061.1 1214.4 1062.5 1210.4C1063.9 1206.4 1065.8 1203 1066.5 1201.5" fill="none" stroke="#16878f" stroke-width="2.4" stroke-linejoin="round"/>
<path d="M307 1370C342.6 1370.2 473.3 1370 520.4 1371.2C567.5 1372.4 564.5 1374.9 589.5 1377C614.5 1379.1 648.8 1381.8 670.2 1383.9C691.6 1386 703.7 1388.4 718 1389.6C732.3 1390.8 743.3 1390.1 756 1390.9C768.7 1391.7 781.3 1392.6 794 1394.2C806.7 1395.8 819.4 1397.3 832.1 1400.5C844.8 1403.7 859.6 1409.2 870.1 1413.2C880.6 1417.2 887.6 1420.6 895.4 1424.6C903.2 1428.6 908.5 1432.4 917 1437.3C925.5 1442.2 937 1448 946.1 1453.7C955.2 1459.4 965 1466.4 971.5 1471.5C978 1476.6 983.1 1482 985.4 1484.1C986.5 1473.5 989 1439.8 991.7 1420.8C994.5 1401.8 998.1 1389.1 1001.9 1370.1C1005.7 1351.1 1010.4 1327.8 1014.6 1306.7C1018.8 1285.6 1025.1 1254 1027.2 1243.4C1029.3 1239.6 1035.2 1226.9 1039.9 1220.6C1044.6 1214.2 1050.7 1208.7 1055.1 1205.3C1059.5 1201.9 1064.6 1201.1 1066.5 1200.3" fill="none" stroke="#16878f" stroke-width="2.1" stroke-linejoin="round"/>
<path d="M305 1376.5C325.5 1376.6 396.1 1376.2 428.2 1377C460.3 1377.8 474.3 1379.5 497.4 1381.6C520.4 1383.7 543.5 1386.6 566.5 1389.7C589.5 1392.8 616.7 1397 635.6 1400C654.5 1403 668.4 1405.1 680 1407.5C691.6 1409.9 697.7 1412.4 705.3 1414.5C712.9 1416.6 717.1 1418.5 725.6 1420C734.1 1421.5 745.9 1422.1 756 1423.3C766.1 1424.5 777.2 1425.2 786.5 1427.1C795.8 1429 804.6 1432 811.8 1434.7C819 1437.5 824.6 1440 829.5 1443.6C834.4 1447.2 838.4 1451.6 840.9 1456.3C843.4 1461 843.9 1463.7 844.7 1471.5C845.6 1479.3 845.8 1497.9 846 1503.2L1034.8 1503.2C1035 1495.8 1035.2 1478.9 1036.1 1458.8C1036.9 1438.7 1038.4 1408.1 1039.9 1382.8C1041.4 1357.5 1043.3 1327.8 1045 1306.7C1046.7 1285.6 1048.3 1269.5 1050 1256C1051.7 1242.5 1053.4 1233.2 1055.1 1225.6C1056.8 1218 1058.3 1214.4 1060.2 1210.4C1062.1 1206.4 1065.5 1203 1066.5 1201.5" fill="none" stroke="#16878f" stroke-width="7" stroke-linecap="round" stroke-linejoin="round"/>
<line x1="846" y1="1503.6" x2="1034.8" y2="1503.6" stroke="#16878f" stroke-width="7.4" stroke-linecap="round"/>
<path d="M305 1364.3C321.7 1363.5 377 1361.2 405.2 1359.7C433.4 1358.2 451.2 1357 474.3 1355.1C497.4 1353.2 524.3 1350.5 543.5 1348.2C562.7 1345.9 576.1 1343.8 589.5 1341.3C602.9 1338.8 614.5 1335.9 624.1 1333.2C633.7 1330.5 639.4 1328.7 647.1 1325.2C654.8 1321.8 663.1 1317 670.2 1312.5C677.4 1308 682 1304.3 690 1298C698 1291.7 708.3 1282.3 718 1274.5C727.7 1266.7 743.3 1254.9 748.4 1251L917 1251C919.8 1248.7 926.5 1242.1 933.5 1237C940.5 1231.9 950.4 1225 958.8 1220.6C967.2 1216.2 975.6 1213.2 984.1 1210.4C992.6 1207.7 1001 1205.8 1009.5 1204.1C1018 1202.4 1025.3 1201.1 1034.8 1200.3C1044.3 1199.5 1061.2 1199.2 1066.5 1199" fill="none" stroke="#e3141c" stroke-width="5" stroke-linecap="round" stroke-linejoin="round"/>
<text x="313.8" y="1337.1" font-size="39" font-weight="bold" fill="#d42b31" textLength="207" lengthAdjust="spacingAndGlyphs">wMed level</text>
<path d="M1595.5 1388.6C1595.3 1390.3 1594.3 1395.7 1594.6 1399C1594.9 1402.3 1595.5 1405.5 1597.3 1408.5C1599.1 1411.5 1602.1 1414.8 1605.6 1417.3C1609.1 1419.8 1613 1421.5 1618.1 1423.6C1623.2 1425.7 1630.7 1427.7 1636 1429.8C1641.3 1431.9 1644.6 1433.2 1649.9 1436C1655.2 1438.8 1662 1442.4 1667.8 1446.4C1673.5 1450.4 1679.3 1455.4 1684.4 1460.2C1689.5 1465 1694.2 1470.1 1698.3 1475.4C1702.4 1480.7 1706.1 1486 1709.3 1492C1712.5 1498 1715.4 1504.6 1717.6 1511.3C1719.8 1518 1721.1 1525.2 1722.4 1532.1C1723.7 1539 1724.6 1544.5 1725.2 1552.8C1725.8 1561.1 1725.9 1577.1 1726 1582L1726 1582.6L1687.6 1582.6C1687.4 1576.5 1687.3 1555.5 1686.5 1545.9C1685.7 1536.3 1685 1532.1 1683 1525.2C1681 1518.3 1678.2 1510.9 1674.7 1504.4C1671.2 1498 1666.7 1492 1662.3 1486.5C1657.9 1481 1653.6 1476 1648.5 1471.2C1643.4 1466.4 1637.4 1462.2 1631.9 1457.4C1626.4 1452.6 1620.8 1447.3 1615.3 1442.2C1609.8 1437.1 1601.5 1429.5 1598.7 1427L1597 1410Z" fill="url(#gd2)"/>
<path d="M1597.5 1388.6C1601.8 1386.4 1612.8 1381.8 1623.4 1375.4C1634.1 1369 1648.7 1359.6 1661.4 1350.1C1674.1 1340.6 1688.9 1327.7 1699.4 1318.4C1710 1309.1 1717.1 1302.1 1724.7 1294.3C1732.3 1286.5 1739 1278.2 1745 1271.5C1751 1264.8 1755.9 1258.9 1761 1253.8C1766.1 1248.7 1768.8 1246 1775.4 1241.1C1782 1236.2 1792.3 1229 1800.8 1224.6C1809.2 1220.2 1817.6 1217.3 1826.1 1214.5C1834.5 1211.7 1843 1209.4 1851.5 1207.6C1860 1205.8 1866.9 1204.6 1876.8 1203.6C1886.7 1202.6 1905.3 1202.1 1911 1201.8L1911 1582L1726 1582C1725.9 1577.1 1725.8 1561.1 1725.2 1552.8C1724.6 1544.5 1723.7 1539 1722.4 1532.1C1721.1 1525.2 1719.8 1518 1717.6 1511.3C1715.4 1504.6 1712.5 1498 1709.3 1492C1706.1 1486 1702.4 1480.7 1698.3 1475.4C1694.2 1470.1 1689.5 1465 1684.4 1460.2C1679.3 1455.4 1673.5 1450.4 1667.8 1446.4C1662 1442.4 1655.2 1438.8 1649.9 1436C1644.6 1433.2 1641.3 1431.9 1636 1429.8C1630.7 1427.7 1623.2 1425.7 1618.1 1423.6C1613 1421.5 1609.1 1419.8 1605.6 1417.3C1602.1 1414.8 1599.1 1411.5 1597.3 1408.5C1595.5 1405.5 1594.9 1402.3 1594.6 1399C1594.3 1395.7 1595.3 1390.3 1595.5 1388.6Z" fill="#fdbaa6"/>
<path d="M1597.5 1388.6C1601.8 1386.4 1612.8 1381.8 1623.4 1375.4C1634.1 1369 1648.7 1359.6 1661.4 1350.1C1674.1 1340.6 1688.9 1327.7 1699.4 1318.4C1710 1309.1 1717.1 1302.1 1724.7 1294.3C1732.3 1286.5 1739 1278.2 1745 1271.5C1751 1264.8 1755.9 1258.9 1761 1253.8C1766.1 1248.7 1768.8 1246 1775.4 1241.1C1782 1236.2 1792.3 1229 1800.8 1224.6C1809.2 1220.2 1817.6 1217.3 1826.1 1214.5C1834.5 1211.7 1843 1209.4 1851.5 1207.6C1860 1205.8 1866.9 1204.6 1876.8 1203.6C1886.7 1202.6 1905.3 1202.1 1911 1201.8L1911 1582L1761 1582L1761 1496C1760.7 1494.1 1760.3 1488.2 1759.1 1484.5C1757.9 1480.8 1756.4 1478 1753.6 1474C1750.8 1470 1747.1 1465.3 1742.5 1460.2C1737.9 1455.1 1732.1 1448.7 1725.9 1443.6C1719.7 1438.5 1712.1 1433.7 1705.2 1429.8C1698.3 1425.9 1692.5 1423.2 1684.4 1420.1C1676.3 1417 1666 1413.6 1656.8 1411.1C1647.6 1408.6 1638.3 1406.6 1629.1 1404.9C1619.9 1403.2 1606.8 1401.6 1601.5 1400.7C1596.2 1399.8 1598.2 1400 1597.5 1399.8Z" fill="url(#stO)"/>
<line x1="1597.5" y1="1196.1" x2="1597.5" y2="1622" stroke="#5c6165" stroke-width="2.2" stroke-dasharray="11.6 12.75"/>
<line x1="1761" y1="1196.1" x2="1761" y2="1622" stroke="#5c6165" stroke-width="2.2" stroke-dasharray="11.6 12.75"/>
<path d="M1597 1410L1598.7 1427C1601.5 1429.5 1609.8 1437.1 1615.3 1442.2C1620.8 1447.3 1626.4 1452.6 1631.9 1457.4C1637.4 1462.2 1643.4 1466.4 1648.5 1471.2C1653.6 1476 1657.9 1481 1662.3 1486.5C1666.7 1492 1671.2 1498 1674.7 1504.4C1678.2 1510.9 1681 1518.3 1683 1525.2C1685 1532.1 1685.7 1536.3 1686.5 1545.9C1687.3 1555.5 1687.4 1576.5 1687.6 1582.6L1726 1582.6" fill="none" stroke="#f08a6c" stroke-width="1.4" stroke-linejoin="round"/>
<path d="M1595.5 1388.6C1595.3 1390.3 1594.3 1395.7 1594.6 1399C1594.9 1402.3 1595.5 1405.5 1597.3 1408.5C1599.1 1411.5 1602.1 1414.8 1605.6 1417.3C1609.1 1419.8 1613 1421.5 1618.1 1423.6C1623.2 1425.7 1630.7 1427.7 1636 1429.8C1641.3 1431.9 1644.6 1433.2 1649.9 1436C1655.2 1438.8 1662 1442.4 1667.8 1446.4C1673.5 1450.4 1679.3 1455.4 1684.4 1460.2C1689.5 1465 1694.2 1470.1 1698.3 1475.4C1702.4 1480.7 1706.1 1486 1709.3 1492C1712.5 1498 1715.4 1504.6 1717.6 1511.3C1719.8 1518 1721.1 1525.2 1722.4 1532.1C1723.7 1539 1724.6 1544.5 1725.2 1552.8C1725.8 1561.1 1725.9 1577.1 1726 1582L1912.3 1582" fill="none" stroke="#f87e5a" stroke-width="5" stroke-linecap="round" stroke-linejoin="round"/>
<line x1="1726" y1="1582.4" x2="1912.3" y2="1582.4" stroke="#f87e5a" stroke-width="6.5" stroke-linecap="round"/>
<path d="M1153.7 1388.6L1597.5 1388.6C1601.8 1386.4 1612.8 1381.8 1623.4 1375.4C1634.1 1369 1648.7 1359.6 1661.4 1350.1C1674.1 1340.6 1688.9 1327.7 1699.4 1318.4C1710 1309.1 1717.1 1302.1 1724.7 1294.3C1732.3 1286.5 1739 1278.2 1745 1271.5C1751 1264.8 1755.9 1258.9 1761 1253.8C1766.1 1248.7 1768.8 1246 1775.4 1241.1C1782 1236.2 1792.3 1229 1800.8 1224.6C1809.2 1220.2 1817.6 1217.3 1826.1 1214.5C1834.5 1211.7 1843 1209.4 1851.5 1207.6C1860 1205.8 1866.9 1204.6 1876.8 1203.6C1886.7 1202.6 1905.3 1202.1 1911 1201.8" fill="none" stroke="#e3141c" stroke-width="5.2" stroke-linecap="round" stroke-linejoin="round"/>
<text x="1158.5" y="1375.9" font-size="39" font-weight="bold" fill="#d42b31" textLength="197.5" lengthAdjust="spacingAndGlyphs">eMed level</text>
<line x1="286" y1="1201.6" x2="1919" y2="1201.6" stroke="#2a7ed6" stroke-width="2.2" stroke-dasharray="9.4 10.184"/>
<line x1="283" y1="1252.1" x2="1919" y2="1252.1" stroke="#2a7ed6" stroke-width="2.2" stroke-dasharray="9.4 10.184"/>
<rect x="1236" y="1198" width="87" height="8" fill="#fff"/>
<rect x="1313" y="1248" width="87" height="8" fill="#fff"/>
<circle cx="1279.3" cy="1185" r="37" fill="#10b4ec" stroke="#1f3b4d" stroke-width="2.4"/>
<text x="1279.8" y="1200.5" font-size="42" text-anchor="middle" font-weight="bold" fill="#fff" textLength="49" lengthAdjust="spacingAndGlyphs" stroke="#fff" stroke-width="0.9">AL</text>
<circle cx="1356.1" cy="1248.1" r="37" fill="#10b4ec" stroke="#1f3b4d" stroke-width="2.4"/>
<text x="1356.6" y="1263.6" font-size="42" text-anchor="middle" font-weight="bold" fill="#fff" textLength="42" lengthAdjust="spacingAndGlyphs" stroke="#fff" stroke-width="0.9">SL</text>
<path d="M285.6 1200.6 V1623.4M260.2 1201.6 H286.7M260.2 1248.4 H286.7M260.2 1295.1 H286.7M260.2 1341.9 H286.7M260.2 1388.6 H286.7M260.2 1435.4 H286.7M260.2 1482.2 H286.7M260.2 1528.9 H286.7M260.2 1575.7 H286.7M260.2 1622.4 H286.7M272.4 1225 H286.7M272.4 1271.7 H286.7M272.4 1318.5 H286.7M272.4 1365.3 H286.7M272.4 1412 H286.7M272.4 1458.8 H286.7M272.4 1505.5 H286.7M272.4 1552.3 H286.7M272.4 1599.1 H286.7" fill="none" stroke="#4f4f4f" stroke-width="2.2"/>
<text x="235.5" y="1214.2" font-size="34.5" text-anchor="end" textLength="20.6" lengthAdjust="spacingAndGlyphs" stroke="#000" stroke-width="0.48">0</text>
<text x="235.5" y="1261" font-size="34.5" text-anchor="end" textLength="62" lengthAdjust="spacingAndGlyphs" stroke="#000" stroke-width="0.48">500</text>
<text x="235.5" y="1307.7" font-size="34.5" text-anchor="end" textLength="82.8" lengthAdjust="spacingAndGlyphs" stroke="#000" stroke-width="0.48">1000</text>
<text x="235.5" y="1354.5" font-size="34.5" text-anchor="end" textLength="82.8" lengthAdjust="spacingAndGlyphs" stroke="#000" stroke-width="0.48">1500</text>
<text x="235.5" y="1401.2" font-size="34.5" text-anchor="end" textLength="82.8" lengthAdjust="spacingAndGlyphs" stroke="#000" stroke-width="0.48">2000</text>
<text x="235.5" y="1448" font-size="34.5" text-anchor="end" textLength="82.8" lengthAdjust="spacingAndGlyphs" stroke="#000" stroke-width="0.48">2500</text>
<text x="235.5" y="1494.8" font-size="34.5" text-anchor="end" textLength="82.8" lengthAdjust="spacingAndGlyphs" stroke="#000" stroke-width="0.48">3000</text>
<text x="235.5" y="1541.5" font-size="34.5" text-anchor="end" textLength="82.8" lengthAdjust="spacingAndGlyphs" stroke="#000" stroke-width="0.48">3500</text>
<text x="235.5" y="1588.3" font-size="34.5" text-anchor="end" textLength="82.8" lengthAdjust="spacingAndGlyphs" stroke="#000" stroke-width="0.48">4000</text>
<text x="235.5" y="1635" font-size="34.5" text-anchor="end" textLength="82.8" lengthAdjust="spacingAndGlyphs" stroke="#000" stroke-width="0.48">4500</text>
<text x="125.9" y="1521" font-size="48" textLength="221" lengthAdjust="spacingAndGlyphs" transform="rotate(-90 125.9 1521)" stroke="#000" stroke-width="0.67">Depth (m)</text>
<path d="M305.1 1627.1H1083.7M306.1 1627.1V1652.6M409.7 1627.1V1652.6M513.2 1627.1V1652.6M616.8 1627.1V1652.6M720.3 1627.1V1652.6M823.9 1627.1V1652.6M927.4 1627.1V1652.6M1031 1627.1V1652.6M1082.7 1627.1V1640.6M357.9 1627.1V1640.6M461.4 1627.1V1640.6M565 1627.1V1640.6M668.5 1627.1V1640.6M772.1 1627.1V1640.6M875.6 1627.1V1640.6M979.2 1627.1V1640.6" fill="none" stroke="#4f4f4f" stroke-width="2"/>
<text x="306.1" y="1719.8" font-size="41" text-anchor="middle" textLength="23.8" lengthAdjust="spacingAndGlyphs" stroke="#000" stroke-width="0.57">0</text>
<text x="409.7" y="1719.8" font-size="41" text-anchor="middle" textLength="71.5" lengthAdjust="spacingAndGlyphs" stroke="#000" stroke-width="0.57">100</text>
<text x="513.2" y="1719.8" font-size="41" text-anchor="middle" textLength="71.5" lengthAdjust="spacingAndGlyphs" stroke="#000" stroke-width="0.57">200</text>
<text x="616.8" y="1719.8" font-size="41" text-anchor="middle" textLength="71.5" lengthAdjust="spacingAndGlyphs" stroke="#000" stroke-width="0.57">300</text>
<text x="720.3" y="1719.8" font-size="41" text-anchor="middle" textLength="71.5" lengthAdjust="spacingAndGlyphs" stroke="#000" stroke-width="0.57">400</text>
<text x="823.9" y="1719.8" font-size="41" text-anchor="middle" textLength="71.5" lengthAdjust="spacingAndGlyphs" stroke="#000" stroke-width="0.57">500</text>
<text x="927.4" y="1719.8" font-size="41" text-anchor="middle" textLength="71.5" lengthAdjust="spacingAndGlyphs" stroke="#000" stroke-width="0.57">600</text>
<text x="1031" y="1719.8" font-size="41" text-anchor="middle" textLength="71.5" lengthAdjust="spacingAndGlyphs" stroke="#000" stroke-width="0.57">700</text>
<path d="M1153.4 1627.1H1928.1M1154.4 1627.1V1652.6M1257.5 1627.1V1652.6M1360.5 1627.1V1652.6M1463.6 1627.1V1652.6M1566.6 1627.1V1652.6M1669.7 1627.1V1652.6M1772.8 1627.1V1652.6M1875.8 1627.1V1652.6M1927.1 1627.1V1640.6M1205.9 1627.1V1640.6M1309 1627.1V1640.6M1412.1 1627.1V1640.6M1515.1 1627.1V1640.6M1618.2 1627.1V1640.6M1721.2 1627.1V1640.6M1824.3 1627.1V1640.6" fill="none" stroke="#4f4f4f" stroke-width="2"/>
<text x="1154.4" y="1719.8" font-size="41" text-anchor="middle" textLength="23.8" lengthAdjust="spacingAndGlyphs" stroke="#000" stroke-width="0.57">0</text>
<text x="1257.5" y="1719.8" font-size="41" text-anchor="middle" textLength="71.5" lengthAdjust="spacingAndGlyphs" stroke="#000" stroke-width="0.57">100</text>
<text x="1360.5" y="1719.8" font-size="41" text-anchor="middle" textLength="71.5" lengthAdjust="spacingAndGlyphs" stroke="#000" stroke-width="0.57">200</text>
<text x="1463.6" y="1719.8" font-size="41" text-anchor="middle" textLength="71.5" lengthAdjust="spacingAndGlyphs" stroke="#000" stroke-width="0.57">300</text>
<text x="1566.6" y="1719.8" font-size="41" text-anchor="middle" textLength="71.5" lengthAdjust="spacingAndGlyphs" stroke="#000" stroke-width="0.57">400</text>
<text x="1669.7" y="1719.8" font-size="41" text-anchor="middle" textLength="71.5" lengthAdjust="spacingAndGlyphs" stroke="#000" stroke-width="0.57">500</text>
<text x="1772.8" y="1719.8" font-size="41" text-anchor="middle" textLength="71.5" lengthAdjust="spacingAndGlyphs" stroke="#000" stroke-width="0.57">600</text>
<text x="1875.8" y="1719.8" font-size="41" text-anchor="middle" textLength="71.5" lengthAdjust="spacingAndGlyphs" stroke="#000" stroke-width="0.57">700</text>
<text x="566.5" y="1786.3" font-size="48" textLength="255" lengthAdjust="spacingAndGlyphs" stroke="#000" stroke-width="0.67">Time (days)</text>
<text x="1412" y="1786.3" font-size="48" textLength="255" lengthAdjust="spacingAndGlyphs" stroke="#000" stroke-width="0.67">Time (days)</text>
<text x="4.5" y="1931.9" font-size="63" textLength="33.5" lengthAdjust="spacingAndGlyphs" stroke="#000" stroke-width="0.88">d</text>
<text x="400.5" y="1926.7" font-size="49" textLength="290.5" lengthAdjust="spacingAndGlyphs" stroke="#000" stroke-width="0.69">Shallower sill</text>
<text x="1208" y="1927.7" font-size="49" textLength="233" lengthAdjust="spacingAndGlyphs" stroke="#000" stroke-width="0.69">Deeper sill</text>
<path d="M280.3 1990.2 V2496.6M258.7 1991.2 H281.3M258.7 2047.2 H281.3M258.7 2103.3 H281.3M258.7 2159.3 H281.3M258.7 2215.4 H281.3M258.7 2271.4 H281.3M258.7 2327.5 H281.3M258.7 2383.6 H281.3M258.7 2439.6 H281.3M258.7 2495.7 H281.3M269.5 2019.2 H281.3M269.5 2075.3 H281.3M269.5 2131.3 H281.3M269.5 2187.4 H281.3M269.5 2243.4 H281.3M269.5 2299.5 H281.3M269.5 2355.5 H281.3M269.5 2411.6 H281.3M269.5 2467.6 H281.3" fill="none" stroke="#4f4f4f" stroke-width="2"/>
<text x="237" y="2003.9" font-size="36" text-anchor="end" stroke="#000" stroke-width="0.5">0</text>
<text x="237" y="2059.9" font-size="36" text-anchor="end" stroke="#000" stroke-width="0.5">500</text>
<text x="237" y="2116" font-size="36" text-anchor="end" stroke="#000" stroke-width="0.5">1000</text>
<text x="237" y="2172" font-size="36" text-anchor="end" stroke="#000" stroke-width="0.5">1500</text>
<text x="237" y="2228.1" font-size="36" text-anchor="end" stroke="#000" stroke-width="0.5">2000</text>
<text x="237" y="2284.1" font-size="36" text-anchor="end" stroke="#000" stroke-width="0.5">2500</text>
<text x="237" y="2340.2" font-size="36" text-anchor="end" stroke="#000" stroke-width="0.5">3000</text>
<text x="237" y="2396.2" font-size="36" text-anchor="end" stroke="#000" stroke-width="0.5">3500</text>
<text x="237" y="2452.3" font-size="36" text-anchor="end" stroke="#000" stroke-width="0.5">4000</text>
<text x="237" y="2508.3" font-size="36" text-anchor="end" stroke="#000" stroke-width="0.5">4500</text>
<text x="121.4" y="2336" font-size="42" textLength="188" lengthAdjust="spacingAndGlyphs" transform="rotate(-90 121.4 2336)" stroke="#000" stroke-width="0.59">Depth (m)</text>
<path d="M350.3 1992.3H360.3V1994.3H371.1V1996.8H379.4V1999.4H386.3V2002.4H392.6V2005.5H398.6V2009.1H404.3V2013.1H409.1V2017.3H413.2V2021.8H416.9V2026.8H420.3V2032.2H423.4V2037.8H426.1V2049.9H428.9V2063.9H431.8V2077.9H434.6V2091.8H437.4V2105.8H440.3V2119.8H443.1V2133.8H446V2147.8H448.9V2160.5H451.7V2174H454.5V2187H457.3V2201H460.1V2215H462.9V2229.9H465.7V2245.7H468.5V2263.4H471.8V2284.9H474.7V2352.3H351Z" fill="#8fe5e4"/>
<path d="M350.3 1992.3H360.3V1994.3H371.1V1996.8H379.4V1999.4H386.3V2002.4H392.6V2005.5H398.6V2009.1H404.3V2013.1H409.1V2017.3H413.2V2021.8H416.9V2026.8H420.3V2032.2H423.4V2037.8H426.1V2049.9H428.9V2063.9H431.8V2077.9H434.6V2091.8H437.4V2105.8H440.3V2119.8H443.1V2133.8H446V2147.8H448.9V2160.5H451.7V2174H454.5V2187H457.3V2201H460.1V2215H462.9V2229.9H465.7V2245.7H468.5V2263.4H471.8V2284.9H474.7V2352.3" fill="none" stroke="#3d3d3d" stroke-width="4.2" stroke-linecap="round" stroke-linejoin="miter"/>
<line x1="523.5" y1="2005" x2="523.5" y2="2378.5" stroke="#e3182a" stroke-width="3.6" stroke-dasharray="9.4 7.4" stroke-linecap="round"/>
<path d="M357.4 2364H527.4M358.4 2364V2385.5M414.3 2364V2385.5M470.3 2364V2385.5M526.4 2364V2385.5M386.4 2364V2375M442.3 2364V2375M498.3 2364V2375" fill="none" stroke="#4f4f4f" stroke-width="2"/>
<text x="398.7" y="2430.5" font-size="30.5" text-anchor="end" transform="rotate(-45 398.7 2430.5)" stroke="#000" stroke-width="0.43">1027.9</text>
<text x="445.3" y="2430.5" font-size="30.5" text-anchor="end" transform="rotate(-45 445.3 2430.5)" stroke="#000" stroke-width="0.43">1028</text>
<text x="510.6" y="2430.5" font-size="30.5" text-anchor="end" transform="rotate(-45 510.6 2430.5)" stroke="#000" stroke-width="0.43">1028.1</text>
<text x="566.7" y="2430.5" font-size="30.5" text-anchor="end" transform="rotate(-45 566.7 2430.5)" stroke="#000" stroke-width="0.43">1028.2</text>
<rect x="592.1" y="2024.6" width="121" height="422.7" fill="#fcc5b4"/>
<path d="M592.2 1991.5V2024.6H713.6" fill="none" stroke="#3d3d3d" stroke-width="3.7" stroke-linecap="round" stroke-linejoin="miter"/>
<path d="M713.6 2024.6V2447.3" fill="none" stroke="#3d3d3d" stroke-width="4" stroke-linecap="round"/>
<line x1="300.8" y1="2024.6" x2="764" y2="2024.6" stroke="#2a7ed6" stroke-width="2.2" stroke-dasharray="7.6 9.2"/>
<path d="M576.9 2460.4H768.8M625.6 2460.4V2481.9M696.5 2460.4V2481.9M767.8 2460.4V2481.9M590 2460.4V2471.4M661 2460.4V2471.4M732 2460.4V2471.4" fill="none" stroke="#4f4f4f" stroke-width="2"/>
<text x="656.6" y="2526.9" font-size="30.5" text-anchor="end" transform="rotate(-45 656.6 2526.9)" stroke="#000" stroke-width="0.43">1035</text>
<text x="727.5" y="2526.9" font-size="30.5" text-anchor="end" transform="rotate(-45 727.5 2526.9)" stroke="#000" stroke-width="0.43">1050</text>
<text x="798.8" y="2526.9" font-size="30.5" text-anchor="end" transform="rotate(-45 798.8 2526.9)" stroke="#000" stroke-width="0.43">1065</text>
<circle cx="815.7" cy="2022.6" r="37" fill="#10b4ec" stroke="#1f3b4d" stroke-width="2.4"/>
<text x="816.2" y="2038.1" font-size="42" text-anchor="middle" font-weight="bold" fill="#fff" textLength="42" lengthAdjust="spacingAndGlyphs" stroke="#fff" stroke-width="0.9">SL</text>
<text x="348.5" y="2551.5" font-size="40" textLength="141.5" lengthAdjust="spacingAndGlyphs" stroke="#000" stroke-width="0.56">Density</text>
<text x="349.5" y="2606.5" font-size="40" textLength="139" lengthAdjust="spacingAndGlyphs" stroke="#000" stroke-width="0.56">(kg m<tspan font-size="24" dy="-15">-3</tspan><tspan dy="15">)</tspan></text>
<path d="M1096.6 1993H1112V1995H1122.3V1997.6H1131.7V2000.2H1141V2003.3H1148.3V2006.4H1154.5V2010.1H1160.7V2014.2H1165.9V2018.4H1170V2023H1174.2V2028.2H1178.3V2033.9H1182.5V2043.3H1187.1V2059.8H1190.8V2074.4H1194.4V2088.9H1198.5V2102.9H1201.7V2116.9H1205.8V2130.9H1209.9V2144.9H1213.6V2159.9H1217.7V2175.5H1221.9V2191H1226.1V2208.4H1230.3V2226H1234.1V2244.7H1238.5V2265.4H1242.6V2297.5H1246.9V2352.3H1097.6Z" fill="#8fe5e4"/>
<path d="M1096.6 1993H1112V1995H1122.3V1997.6H1131.7V2000.2H1141V2003.3H1148.3V2006.4H1154.5V2010.1H1160.7V2014.2H1165.9V2018.4H1170V2023H1174.2V2028.2H1178.3V2033.9H1182.5V2043.3H1187.1V2059.8H1190.8V2074.4H1194.4V2088.9H1198.5V2102.9H1201.7V2116.9H1205.8V2130.9H1209.9V2144.9H1213.6V2159.9H1217.7V2175.5H1221.9V2191H1226.1V2208.4H1230.3V2226H1234.1V2244.7H1238.5V2265.4H1242.6V2297.5H1246.9V2352.3" fill="none" stroke="#3d3d3d" stroke-width="4.2" stroke-linecap="round" stroke-linejoin="miter"/>
<path d="M1082.8 2364H1290.5M1083.8 2364V2385.5M1152.4 2364V2385.5M1221 2364V2385.5M1289.5 2364V2385.5M1118.1 2364V2375M1186.7 2364V2375M1255.2 2364V2375" fill="none" stroke="#4f4f4f" stroke-width="2"/>
<text x="1124.1" y="2430.5" font-size="30.5" text-anchor="end" transform="rotate(-45 1124.1 2430.5)" stroke="#000" stroke-width="0.43">1027.3</text>
<text x="1198.2" y="2430.5" font-size="30.5" text-anchor="end" transform="rotate(-45 1198.2 2430.5)" stroke="#000" stroke-width="0.43">1027.35</text>
<text x="1261.3" y="2430.5" font-size="30.5" text-anchor="end" transform="rotate(-45 1261.3 2430.5)" stroke="#000" stroke-width="0.43">1027.4</text>
<text x="1335.3" y="2430.5" font-size="30.5" text-anchor="end" transform="rotate(-45 1335.3 2430.5)" stroke="#000" stroke-width="0.43">1027.45</text>
<rect x="1353" y="2053.9" width="119.8" height="393.4" fill="#fcc5b4"/>
<path d="M1353 1991.5V2053.9H1473" fill="none" stroke="#3d3d3d" stroke-width="3.7" stroke-linecap="round" stroke-linejoin="miter"/>
<path d="M1473 2053.9V2447.3" fill="none" stroke="#3d3d3d" stroke-width="4" stroke-linecap="round"/>
<line x1="1104.8" y1="2056.9" x2="1552" y2="2056.9" stroke="#2a7ed6" stroke-width="2.2" stroke-dasharray="7.6 9.2"/>
<path d="M1324.2 2463.7H1496.1M1325.2 2463.7V2485.2M1381.9 2463.7V2485.2M1438.5 2463.7V2485.2M1495.1 2463.7V2485.2M1353.5 2463.7V2474.7M1410.2 2463.7V2474.7M1466.8 2463.7V2474.7" fill="none" stroke="#4f4f4f" stroke-width="2"/>
<text x="1356.2" y="2530.2" font-size="30.5" text-anchor="end" transform="rotate(-45 1356.2 2530.2)" stroke="#000" stroke-width="0.43">1020</text>
<text x="1412.9" y="2530.2" font-size="30.5" text-anchor="end" transform="rotate(-45 1412.9 2530.2)" stroke="#000" stroke-width="0.43">1035</text>
<text x="1469.5" y="2530.2" font-size="30.5" text-anchor="end" transform="rotate(-45 1469.5 2530.2)" stroke="#000" stroke-width="0.43">1050</text>
<text x="1526.1" y="2530.2" font-size="30.5" text-anchor="end" transform="rotate(-45 1526.1 2530.2)" stroke="#000" stroke-width="0.43">1065</text>
<circle cx="1603" cy="2058.1" r="37" fill="#10b4ec" stroke="#1f3b4d" stroke-width="2.4"/>
<text x="1603.5" y="2073.6" font-size="42" text-anchor="middle" font-weight="bold" fill="#fff" textLength="42" lengthAdjust="spacingAndGlyphs" stroke="#fff" stroke-width="0.9">SL</text>
</svg></body></html>
